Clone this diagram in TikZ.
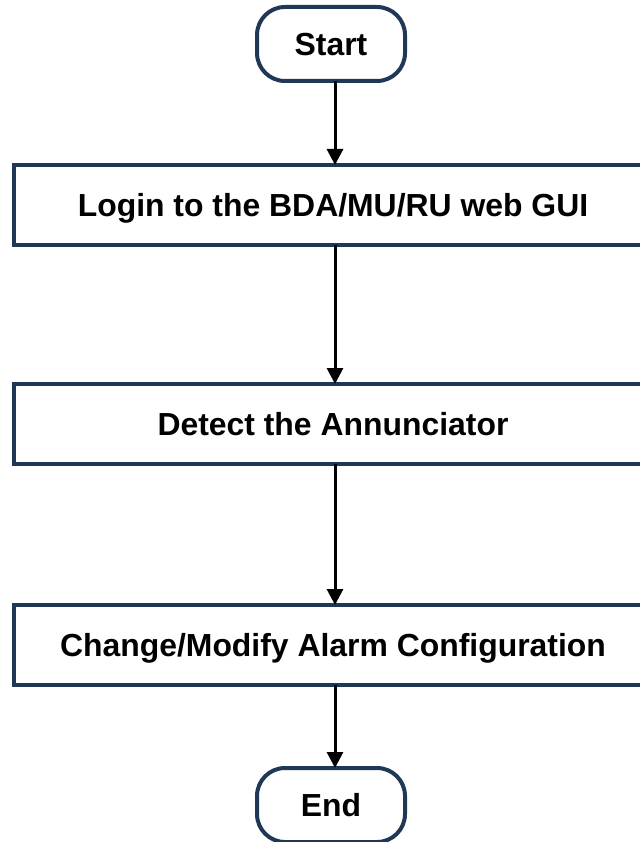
\documentclass[tikz,border=0pt]{standalone}
\usepackage{fontspec}
\setmainfont{Liberation Sans}
\usetikzlibrary{arrows.meta}
\definecolor{frame}{RGB}{31,56,86}
\tikzset{
  base/.style={draw=frame, line width=4pt, fill=white, inner sep=0pt, outer sep=0pt,
    font=\fontsize{31.9}{36}\selectfont\bfseries, text=black,
    text height=23pt, text depth=0pt},
  term/.style={base, minimum width=148pt, minimum height=74pt, rounded corners=28pt},
  proc/.style={base, minimum width=638pt, minimum height=80pt},
  arr/.style={line width=3pt, black, -{Triangle[length=16pt,width=16pt]}, shorten >=0pt}
}
\begin{document}
\begin{tikzpicture}[x=1pt,y=-1pt]
\useasboundingbox (0,0) rectangle (639,842);
\node[term] (start) at (331,44) {Start};
\node[proc] (login) at (333,205) {Login to the BDA/MU/RU web GUI};
\node[proc] (detect) at (333,424) {Detect the Annunciator};
\node[proc] (change) at (333,645) {Change/Modify Alarm Configuration};
\node[term] (end) at (331,805) {End};
\draw[arr] ([xshift=4pt]start.south) -- ([xshift=2pt]login.north);
\draw[arr] ([xshift=2pt]login.south) -- ([xshift=2pt]detect.north);
\draw[arr] ([xshift=2pt]detect.south) -- ([xshift=2pt]change.north);
\draw[arr] ([xshift=2pt]change.south) -- ([xshift=4pt]end.north);
\end{tikzpicture}
\end{document}
